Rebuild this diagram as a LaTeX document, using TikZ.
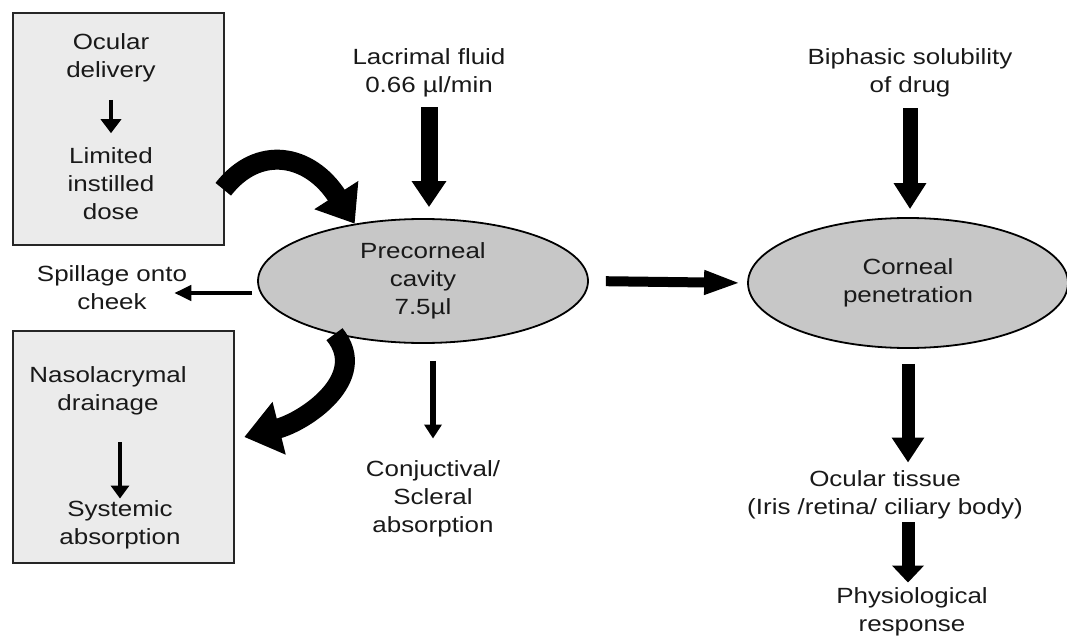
\documentclass[tikz,border=0pt]{standalone}
\usepackage{fontspec}
\setmainfont{Liberation Sans}[FakeStretch=1.18]
\usetikzlibrary{arrows.meta,shapes.geometric,calc}
\begin{document}
\begin{tikzpicture}[x=1pt,y=-1pt,
  txt/.style={align=center,inner sep=0pt,font=\fontsize{22}{28}\selectfont,text=black!90},
  oval/.style={ellipse,draw=black,line width=1.8pt,fill=black!22,inner sep=0pt,
    align=center,font=\fontsize{22}{28}\selectfont,text=black!90},
  panel/.style={rectangle,draw=black!85,line width=2.5pt,fill=black!8,inner sep=0pt},
  fatarrow/.style={draw=black,line width=17pt,-{Triangle[length=26pt,width=33pt]}},
  midarrow/.style={draw=black,line width=13pt,-{Triangle[length=25pt,width=31pt]}},
  flatarrow/.style={draw=black,line width=10pt,-{Triangle[length=37pt,width=22pt]}},
  thinarrow/.style={draw=black,line width=4pt,-{Triangle[length=14pt,width=17pt]}},
  curvearrow/.style={draw=black,line width=20pt}]
\useasboundingbox (0,0) rectangle (1067,639);

% panels
\node[panel,minimum width=211pt,minimum height=232pt] (box1) at (118.5,129) {};
\node[panel,minimum width=221pt,minimum height=232pt] (box2) at (123.5,447) {};

\node[txt] (od)  at (111,57.5) {Ocular\\delivery};
\node[txt] (lim) at (111,183.5) {Limited\\instilled\\dose};
\node[txt] (nas) at (108,391) {Nasolacrymal\\drainage};
\node[txt] (sys) at (120,525) {Systemic\\absorption};

% ellipses
\node[oval,minimum width=330pt,minimum height=124pt] (pre) at (423,281) {Precorneal\\cavity\\7.5µl};
\node[oval,minimum width=320pt,minimum height=130pt] (cor) at (908,283) {Corneal\\penetration};

% free texts
\node[txt] (lac)   at (429,73)  {Lacrimal fluid\\0.66 µl/min};
\node[txt] (bip)   at (910,73)  {Biphasic solubility\\of drug};
\node[txt] (spill) at (112,288) {Spillage onto\\cheek};
\node[txt] (conj)  at (433,499) {Conjuctival/\\Scleral\\absorption};
\node[txt] (oct)   at (885,495) {Ocular tissue\\(Iris /retina/ ciliary body)};
\node[txt] (phys)  at (912,612) {Physiological\\response};

% straight arrows
\draw[thinarrow,shorten <=18pt,shorten >=14pt,-{Triangle[length=14pt,width=20pt]}] (od.south) -- (lim.north);
\draw[thinarrow,shorten <=27pt,shorten >=2pt,-{Triangle[length=13pt,width=18pt]}] (nas.south -| sys.north) -- (sys.north);
\draw[fatarrow,shorten <=10pt,shorten >=11pt] (lac.south) -- (lac.south |- pre.north);
\draw[fatarrow,shorten <=11pt,shorten >=8pt,line width=15pt,-{Triangle[length=26pt,width=31pt]}] (bip.south) -- (bip.south |- cor.north);
\draw[flatarrow,shorten <=17pt,shorten >=6pt] (pre.east) -- (cor.west);
\draw[thinarrow,line width=6pt,shorten <=17pt,shorten >=22pt] (pre.south -| conj.north) -- (conj.north);
\draw[thinarrow,shorten <=5pt,shorten >=-13pt,-{Triangle[length=17pt,width=15pt]}] ([yshift=-5pt]pre.west |- spill.east) -- ([yshift=-5pt]spill.east);
\draw[midarrow,shorten <=15pt,shorten >=8pt] (cor.south) -- (cor.south |- oct.north);
\draw[midarrow,shorten <=3pt,shorten >=5pt,-{Triangle[length=17pt,width=31pt]}] (oct.south -| cor.south) -- (phys.north -| cor.south);

% curved arrows
\draw[curvearrow,-{Triangle[length=34pt,width=50pt]}]
  ($(box1.south east)+(-2,-57)$) .. controls +(35,-45) and +(-45,-70) .. (pre.140);
\draw[curvearrow,-{Triangle[length=36pt,width=52pt]}]
  (pre.211) .. controls +(36,44) and +(60,-15) .. ($(box2.east)+(9,-10)$);
\end{tikzpicture}
\end{document}
